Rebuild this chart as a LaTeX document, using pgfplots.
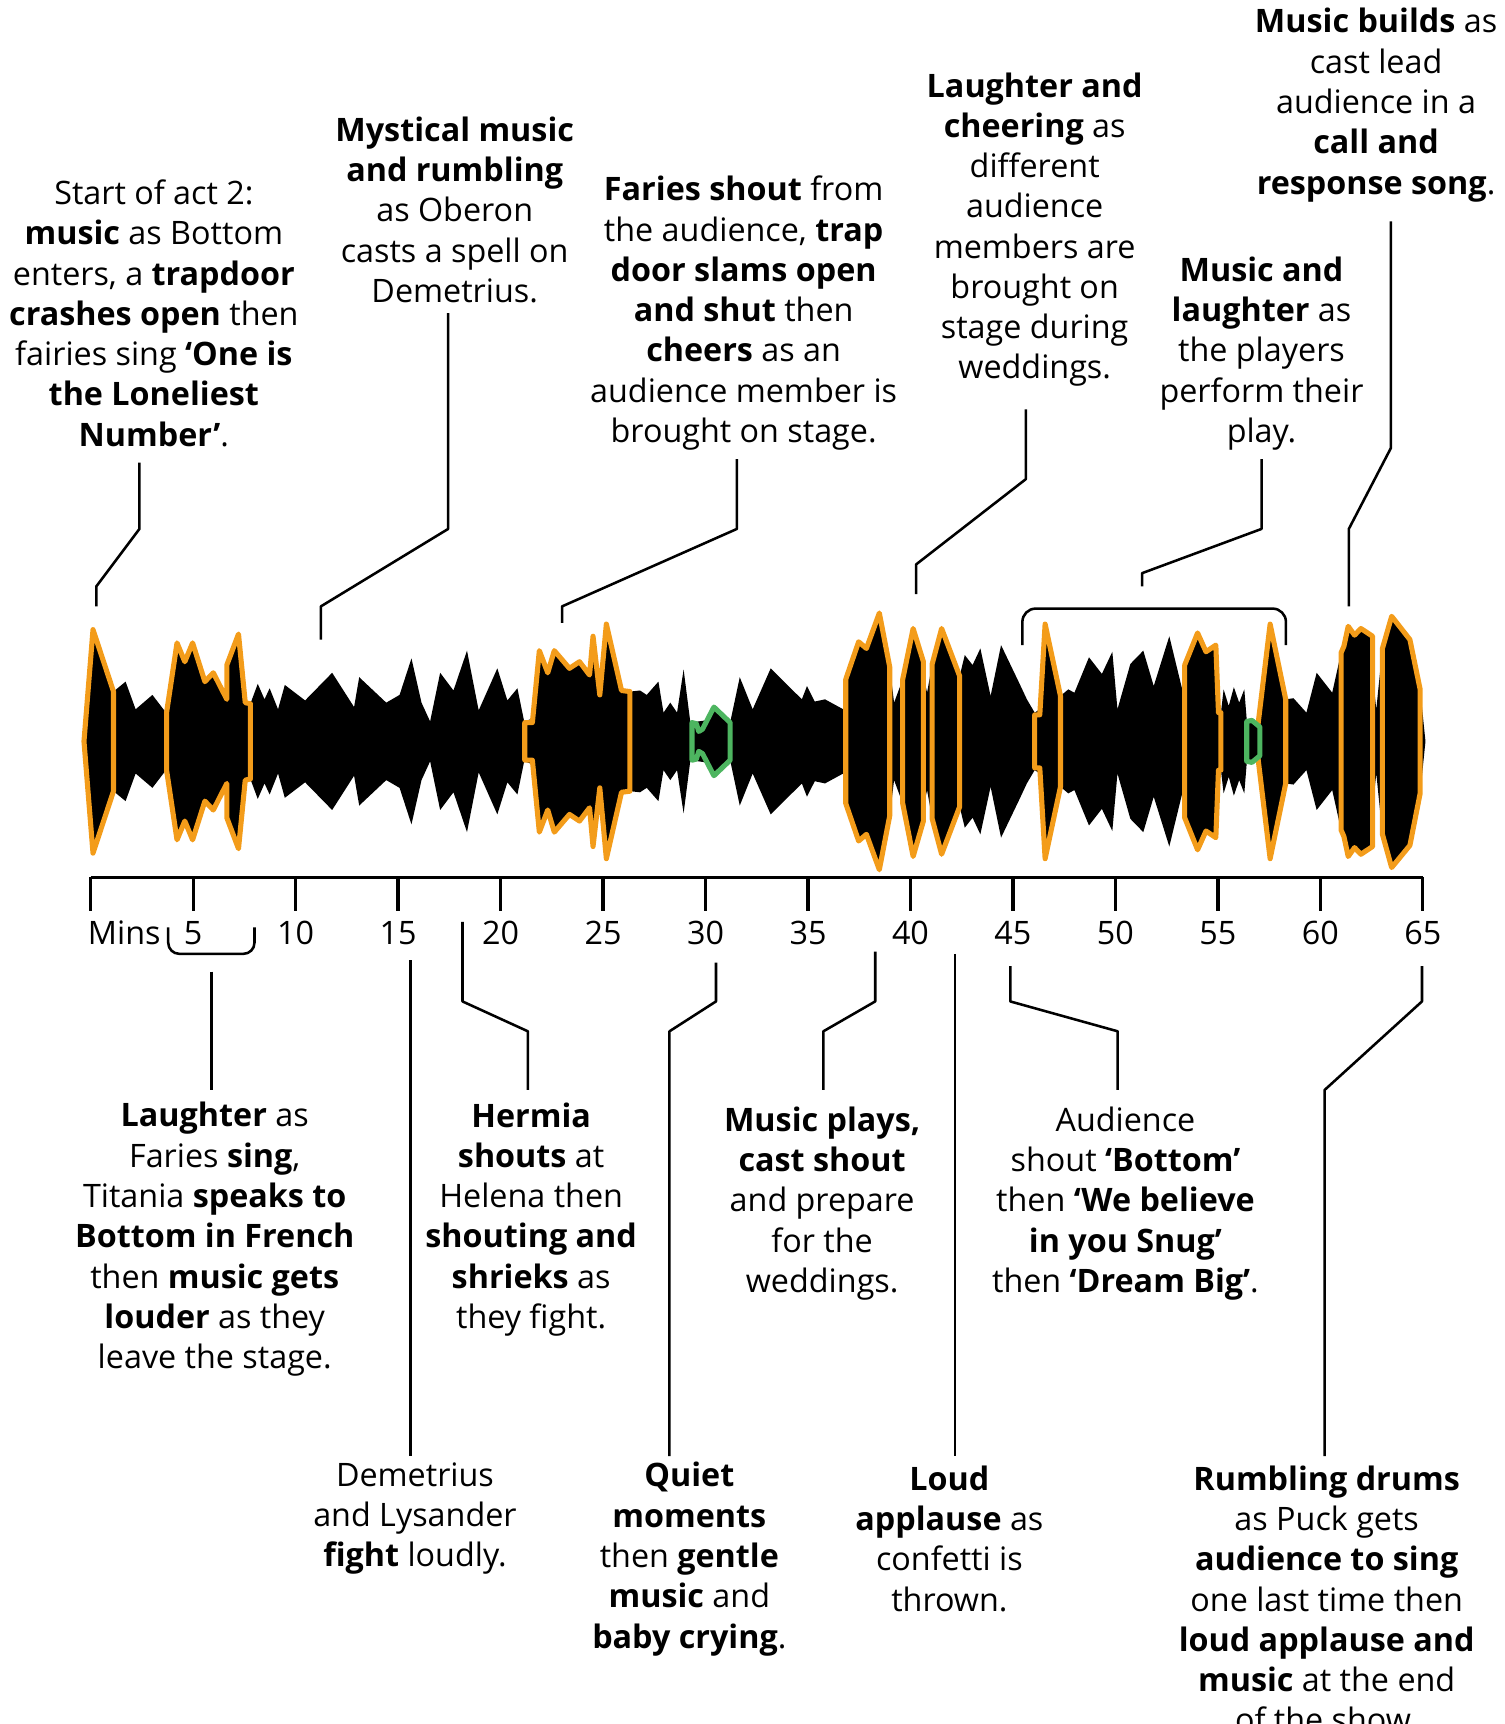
\documentclass[border=0pt]{standalone}
\usepackage{fontspec}
\setmainfont{Open Sans}
\usepackage{pgfplots}
\usepackage{pgfplotstable}
\pgfplotsset{compat=1.18}
\usepgfplotslibrary{fillbetween}
\definecolor{loud}{HTML}{F39C1A}
\definecolor{quiet}{HTML}{4DB560}

% envelope of the sound: minute, half height (centre line sits at y=123)
\pgfplotstableread{
x a
-0.33 0
0.11 40
1.11 45
1.70 54
2.19 29
3.01 42
3.67 26
5.00 30
7.79 34
8.15 52
8.48 38
8.73 48
9.14 29
9.47 51
10.46 37
11.78 62
12.85 31
13.10 58
14.42 35
15.07 42
15.65 75
16.14 35
16.56 18
17.05 62
17.70 46
18.36 82
18.93 28
19.84 66
20.33 37
20.82 48
21.15 18
23.00 30
26.31 45
26.80 46
27.13 42
27.70 54
27.95 26
28.28 35
28.61 26
28.93 65
29.26 17
30.40 20
31.20 17
31.67 58
32.30 29
33.18 66
34.70 38
34.95 50
35.33 36
35.83 38
36.72 29
36.84 56
38.00 50
38.99 67
39.20 35
39.62 56
40.63 60
40.81 44
41.06 70
42.40 59
42.65 78
43.03 69
43.41 84
43.91 41
44.42 87
45.30 53
45.68 38
46.06 26
47.32 41
47.70 47
48.00 44
48.71 76
49.34 61
49.85 81
50.10 29
50.73 70
51.36 82
51.87 50
52.63 95
53.26 47
53.38 69
55.15 26
55.28 47
55.53 32
55.78 49
56.04 35
56.29 47
56.41 19
57.12 13
58.31 38
58.69 39
59.32 26
59.82 62
60.58 44
61.01 80
62.55 60
62.73 29
63.03 84
64.87 47
65.13 0
}\wave

\begin{document}
\begin{tikzpicture}[
  note/.style={align=center, inner sep=0pt, font=\fontsize{14.6}{18.2}\selectfont},
  lead/.style={line width=1.15pt, line join=round}]
\begin{axis}[x=9.26pt, y=0.5pt, xmin=0, xmax=65, ymin=0, ymax=250,
  axis x line*=bottom, axis y line=none, ytick=\empty,
  xtick={0,5,...,65}, xticklabels={,,,,,,,,,,,,,}, tick align=outside,
  major tick length=15pt, every tick/.style={black, line width=1.5pt},
  axis line style={line width=1.5pt}, clip=false,
  seg/.style={fill=black, line width=2.3pt, line join=round, line cap=round}]

\addplot[draw=none, name path=top] table[x=x, y expr=123+\thisrow{a}] {\wave};
\addplot[draw=none, name path=bot] table[x=x, y expr=123-\thisrow{a}] {\wave};
\addplot[black] fill between[of=top and bot];

% loud moments
\addplot[seg, draw=loud] table[x=x, y expr=123+\thisrow{a}, row sep=\\] {x a\\
-0.33 0\\ 0.11 101\\ 1.11 45\\ 1.11 -45\\ 0.11 -101\\ -0.33 0\\};
\addplot[seg, draw=loud] table[x=x, y expr=123+\thisrow{a}, row sep=\\] {x a\\
3.70 26\\ 4.21 89\\ 4.59 72\\ 4.97 89\\ 5.57 54\\ 5.98 62\\ 6.64 38\\ 6.64 69\\ 7.21 97\\ 7.54 35\\ 7.79 34\\
7.79 -34\\ 7.54 -35\\ 7.21 -97\\ 6.64 -69\\ 6.64 -38\\ 5.98 -62\\ 5.57 -54\\ 4.97 -89\\ 4.59 -72\\ 4.21 -89\\ 3.70 -26\\ 3.70 26\\};
\addplot[seg, draw=loud] table[x=x, y expr=123+\thisrow{a}, row sep=\\] {x a\\
21.18 17\\ 21.55 17\\ 21.89 82\\ 22.30 62\\ 22.62 82\\ 23.36 66\\ 23.85 72\\ 24.34 60\\ 24.51 95\\ 24.84 42\\ 25.16 106\\ 25.90 46\\ 26.31 45\\
26.31 -45\\ 25.90 -46\\ 25.16 -106\\ 24.84 -42\\ 24.51 -95\\ 24.34 -60\\ 23.85 -72\\ 23.36 -66\\ 22.62 -82\\ 22.30 -62\\ 21.89 -82\\ 21.55 -17\\ 21.18 -17\\ 21.18 17\\};
\addplot[seg, draw=loud] table[x=x, y expr=123+\thisrow{a}, row sep=\\] {x a\\
36.84 56\\ 37.47 90\\ 37.85 84\\ 38.48 116\\ 38.99 67\\ 38.99 -67\\ 38.48 -116\\ 37.85 -84\\ 37.47 -90\\ 36.84 -56\\ 36.84 56\\};
\addplot[seg, draw=loud] table[x=x, y expr=123+\thisrow{a}, row sep=\\] {x a\\
39.62 56\\ 40.13 102\\ 40.63 72\\ 40.63 -72\\ 40.13 -104\\ 39.62 -56\\ 39.62 56\\};
\addplot[seg, draw=loud] table[x=x, y expr=123+\thisrow{a}, row sep=\\] {x a\\
41.06 70\\ 41.52 102\\ 42.40 59\\ 42.40 -59\\ 41.52 -102\\ 41.06 -70\\ 41.06 70\\};
\addplot[seg, draw=loud] table[x=x, y expr=123+\thisrow{a}, row sep=\\] {x a\\
46.06 24\\ 46.31 24\\ 46.57 106\\ 47.32 41\\ 47.32 -41\\ 46.57 -106\\ 46.31 -24\\ 46.06 -24\\ 46.06 24\\};
\addplot[seg, draw=loud] table[x=x, y expr=123+\thisrow{a}, row sep=\\] {x a\\
53.38 69\\ 54.01 98\\ 54.42 81\\ 54.90 87\\ 55.03 26\\ 55.15 26\\
55.15 -26\\ 55.03 -26\\ 54.90 -87\\ 54.42 -81\\ 54.01 -98\\ 53.38 -69\\ 53.38 69\\};
\addplot[seg, draw=loud] table[x=x, y expr=123+\thisrow{a}, row sep=\\] {x a\\
56.95 14\\ 57.55 106\\ 58.31 38\\ 58.31 -38\\ 57.55 -106\\ 56.95 -14\\ 56.95 14\\};
\addplot[seg, draw=loud] table[x=x, y expr=123+\thisrow{a}, row sep=\\] {x a\\
61.01 80\\ 61.15 86\\ 61.36 104\\ 61.67 96\\ 61.98 102\\ 62.55 95\\
62.55 -95\\ 61.98 -102\\ 61.67 -96\\ 61.36 -104\\ 61.15 -86\\ 61.01 -80\\ 61.01 80\\};
\addplot[seg, draw=loud] table[x=x, y expr=123+\thisrow{a}, row sep=\\] {x a\\
63.03 84\\ 63.48 113\\ 64.37 92\\ 64.87 47\\ 64.87 -47\\ 64.37 -94\\ 63.48 -114\\ 63.03 -84\\ 63.03 84\\};

% quiet moments
\addplot[seg, draw=quiet] table[x=x, y expr=123+\thisrow{a}, row sep=\\] {x a\\
29.34 17\\ 29.55 16\\ 29.67 9\\ 29.85 11\\ 30.41 31\\ 31.20 17\\
31.20 -17\\ 30.41 -31\\ 29.85 -11\\ 29.67 -9\\ 29.55 -16\\ 29.34 -17\\ 29.34 17\\};
\addplot[seg, draw=quiet] table[x=x, y expr=123+\thisrow{a}, row sep=\\] {x a\\
56.41 18\\ 56.66 19\\ 57.05 13\\ 57.05 -13\\ 56.66 -19\\ 56.41 -18\\ 56.41 18\\};

% time labels
\node[note, anchor=west] at (-0.16,-50) {Mins};
\node[note] at (5,-50) {5};
\node[note] at (10,-50) {10};
\node[note] at (15,-50) {15};
\node[note] at (20,-50) {20};
\node[note] at (25,-50) {25};
\node[note] at (30,-50) {30};
\node[note] at (35,-50) {35};
\node[note] at (40,-50) {40};
\node[note] at (45,-50) {45};
\node[note] at (50,-50) {50};
\node[note] at (55,-50) {55};
\node[note] at (60,-50) {60};
\node[note] at (65,-50) {65};

% leader lines above
\draw[lead] (2.376,375) -- (2.376,315) -- (0.27,263) -- (0.27,245);
\draw[lead] (17.44,510) -- (17.44,315) -- (11.23,245) -- (11.23,215);
\draw[lead] (31.53,378) -- (31.53,315) -- (23.0,245) -- (23.0,230);
\draw[lead] (45.63,423) -- (45.63,360) -- (40.28,283) -- (40.28,256);
\draw[lead] (57.13,378) -- (57.13,315) -- (51.30,275) -- (51.30,263);
\draw[lead, rounded corners=6pt] (45.46,210) -- (45.46,243) -- (58.32,243) -- (58.32,210);
\draw[lead] (63.44,593) -- (63.44,388) -- (61.39,315) -- (61.39,245);

% leader lines below
\draw[lead, rounded corners=5pt] (3.78,-45) -- (3.78,-69) -- (7.99,-69) -- (7.99,-45);
\draw[lead] (5.89,-85) -- (5.89,-192);
\draw[lead] (15.6,-75) -- (15.6,-523);
\draw[lead] (18.14,-40) -- (18.14,-112) -- (21.33,-139) -- (21.33,-192);
\draw[lead] (30.51,-77) -- (30.51,-112) -- (28.24,-139) -- (28.24,-523);
\draw[lead] (38.28,-67) -- (38.28,-112) -- (35.75,-139) -- (35.75,-192);
\draw[lead] (42.17,-69) -- (42.17,-523);
\draw[lead] (44.87,-80) -- (44.87,-112) -- (50.11,-139) -- (50.11,-192);
\draw[lead] (64.96,-80) -- (64.96,-112) -- (60.21,-192) -- (60.21,-523);

% notes above
\node[note] at (3.08,510) {Start of act 2:\\\textbf{music} as Bottom\\enters, a \textbf{trapdoor}\\\textbf{crashes open} then\\fairies sing \textbf{‘One is}\\\textbf{the Loneliest}\\\textbf{Number’}.};
\node[note] at (17.76,603.5) {\textbf{Mystical music}\\\textbf{and rumbling}\\as Oberon\\casts a spell on\\Demetrius.};
\node[note] at (31.86,510) {\textbf{Faries shout} from\\the audience, \textbf{trap}\\\textbf{door slams open}\\\textbf{and shut} then\\\textbf{cheers} as an\\audience member is\\brought on stage.};
\node[note] at (46.06,585.5) {\textbf{Laughter and}\\\textbf{cheering} as\\different\\audience\\members are\\brought on\\stage during\\weddings.};
\node[note] at (57.13,473.5) {\textbf{Music and}\\\textbf{laughter} as\\the players\\perform their\\play.};
\node[note] at (62.72,698) {\textbf{Music builds} as\\cast lead\\audience in a\\\textbf{call and}\\\textbf{response song}.};

% notes below
\node[note] at (6.05,-327) {\textbf{Laughter} as\\Faries \textbf{sing},\\Titania \textbf{speaks to}\\\textbf{Bottom in French}\\then \textbf{music gets}\\\textbf{louder} as they\\leave the stage.};
\node[note] at (15.82,-579.5) {Demetrius\\and Lysander\\\textbf{fight} loudly.};
\node[note] at (21.49,-309) {\textbf{Hermia}\\\textbf{shouts} at\\Helena then\\\textbf{shouting and}\\\textbf{shrieks} as\\they fight.};
\node[note] at (29.21,-616) {\textbf{Quiet}\\\textbf{moments}\\then \textbf{gentle}\\\textbf{music} and\\\textbf{baby crying}.};
\node[note] at (35.69,-294.5) {\textbf{Music plays,}\\\textbf{cast shout}\\and prepare\\for the\\weddings.};
\node[note] at (41.90,-597.5) {\textbf{Loud}\\\textbf{applause} as\\confetti is\\thrown.};
\node[note] at (50.49,-294.5) {Audience\\shout \textbf{‘Bottom’}\\then \textbf{‘We believe}\\\textbf{in you Snug’}\\then \textbf{‘Dream Big’}.};
\node[note] at (60.31,-652) {\textbf{Rumbling drums}\\as Puck gets\\\textbf{audience to sing}\\one last time then\\\textbf{loud applause and}\\\textbf{music} at the end\\of the show.};

\coordinate (BL) at (-4.428,-765);
\coordinate (TR) at (69.01,793);
\end{axis}
\pgfresetboundingbox
\path (BL) rectangle (TR);
\end{tikzpicture}
\end{document}
